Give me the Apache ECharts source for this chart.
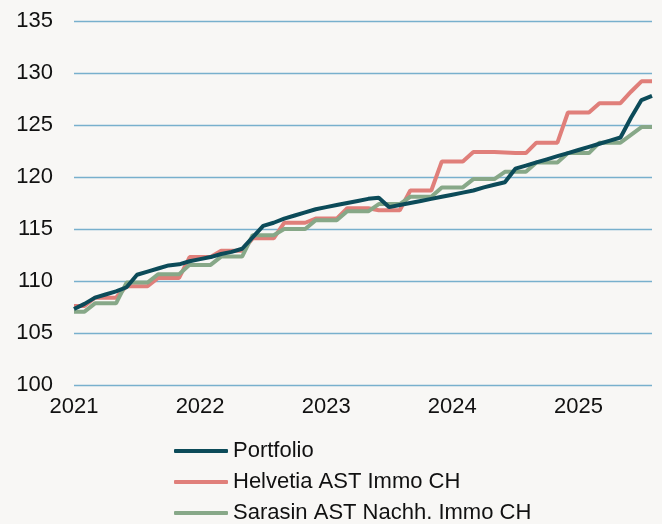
<!DOCTYPE html>
<html>
<head>
    <meta charset="utf-8">
    <title>Portfolio vs. Benchmarks</title>
    <script src="https://cdn.jsdelivr.net/npm/echarts@6/dist/echarts.min.js"></script>
    <style>
        html, body { margin: 0; padding: 0; background: #f8f7f5; }
    </style>
</head>
<body>
    <div id="main" style="width: 662px;height:524px;"></div>
    <script type="text/javascript">
        // monthly index values, Jan 2021 - Aug 2025
        var years = [2021, 2022, 2023, 2024, 2025];
        var seriesNames = ['Portfolio', 'Helvetia AST Immo CH', 'Sarasin AST Nachh. Immo CH'];

        var portfolio = [
            107.3, 107.8, 108.4, 108.7, 109.0, 109.4, 110.6, 110.9, 111.2, 111.5, 111.6, 111.9,
            112.1, 112.3, 112.6, 112.8, 113.1, 114.2, 115.3, 115.6, 116.0, 116.3, 116.6, 116.9,
            117.1, 117.3, 117.5, 117.7, 117.9, 118.0, 117.1, 117.3, 117.5, 117.7, 117.9, 118.1,
            118.3, 118.5, 118.7, 119.0, 119.25, 119.5, 120.8, 121.1, 121.4, 121.7, 122.0, 122.3,
            122.6, 122.9, 123.2, 123.5, 123.8, 125.7, 127.4, 127.8
        ];
        var helvetia = [
            107.6, 107.6, 108.4, 108.4, 108.4, 109.5, 109.5, 109.5, 110.3, 110.3, 110.3, 112.3,
            112.3, 112.3, 112.9, 112.9, 112.9, 114.1, 114.1, 114.1, 115.6, 115.6, 115.6, 116.0,
            116.0, 116.0, 117.0, 117.0, 117.0, 116.8, 116.8, 116.8, 118.7, 118.7, 118.7, 121.5,
            121.5, 121.5, 122.4, 122.4, 122.4, 122.35, 122.3, 122.3, 123.3, 123.3, 123.3, 126.2,
            126.2, 126.2, 127.1, 127.1, 127.1, 128.2, 129.2, 129.2
        ];
        var sarasin = [
            107.05, 107.05, 107.85, 107.85, 107.85, 109.85, 109.85, 109.85, 110.65, 110.65, 110.65, 111.55,
            111.55, 111.55, 112.35, 112.35, 112.35, 114.4, 114.4, 114.4, 115.0, 115.0, 115.0, 115.85,
            115.85, 115.85, 116.7, 116.7, 116.7, 117.4, 117.4, 117.4, 118.1, 118.1, 118.1, 119.0,
            119.0, 119.0, 119.8, 119.8, 119.8, 120.5, 120.5, 120.5, 121.4, 121.4, 121.4, 122.3,
            122.3, 122.3, 123.3, 123.3, 123.3, 124.05, 124.8, 124.8
        ];

        // month categories (labels only shown for January)
        var months = [];
        for (var i = 0; i < portfolio.length; i++) {
            var y = years[0] + Math.floor(i / 12);
            var m = (i % 12) + 1;
            months.push(y + '-' + (m < 10 ? '0' + m : m));
        }

        var myChart = echarts.init(document.getElementById('main'));

        var font = 'Liberation Sans, Arial, sans-serif';

        var option = {
            backgroundColor: '#f8f7f5',
            animation: false,
            grid: {
                left: 74,
                right: 10,
                top: 21,
                bottom: 139
            },
            legend: {
                orient: 'vertical',
                left: 174,
                top: 440,
                padding: 0,
                itemWidth: 54,
                itemHeight: 4,
                itemGap: 9,
                icon: 'roundRect',
                data: seriesNames,
                textStyle: { fontFamily: font, fontSize: 22, color: '#111', lineHeight: 22 }
            },
            xAxis: {
                type: 'category',
                data: months,
                boundaryGap: false,
                axisLine: { show: false },
                axisTick: { show: false },
                axisLabel: {
                    interval: 0,
                    margin: 11,
                    fontFamily: font,
                    fontSize: 22,
                    color: '#111',
                    formatter: function (val, idx) {
                        return idx % 12 === 0 ? val.slice(0, 4) : '';
                    }
                },
                splitLine: { show: false }
            },
            yAxis: {
                type: 'value',
                min: 100,
                max: 135,
                interval: 5,
                axisLine: { show: false },
                axisTick: { show: false },
                axisLabel: { margin: 21, fontFamily: font, fontSize: 22, color: '#111' },
                splitLine: { lineStyle: { color: '#78b0cd', width: 1.3 } }
            },
            series: [
                {
                    name: seriesNames[0],
                    type: 'line',
                    data: portfolio,
                    showSymbol: false,
                    z: 5,
                    color: '#0c4b59',
                    lineStyle: { width: 4 }
                },
                {
                    name: seriesNames[1],
                    type: 'line',
                    data: helvetia,
                    showSymbol: false,
                    z: 3,
                    color: '#e07f7a',
                    lineStyle: { width: 4 }
                },
                {
                    name: seriesNames[2],
                    type: 'line',
                    data: sarasin,
                    showSymbol: false,
                    z: 4,
                    color: '#87a888',
                    lineStyle: { width: 4 }
                }
            ]
        };

        myChart.setOption(option);
    </script>
</body>
</html>
